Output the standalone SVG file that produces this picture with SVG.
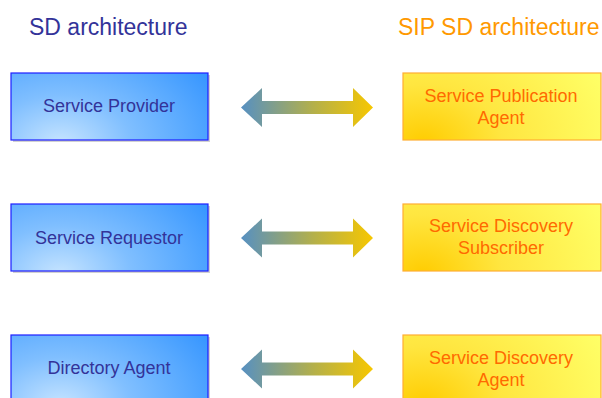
<svg xmlns="http://www.w3.org/2000/svg" width="602" height="398" viewBox="0 0 602 398">
<defs>
<radialGradient id="blueG" cx="0.25" cy="1.05" r="0.9" gradientTransform="translate(0.25 1.05) scale(1 2) translate(-0.25 -1.05)">
<stop offset="0" stop-color="#c6e4ff"/>
<stop offset="0.4" stop-color="#80bfff"/>
<stop offset="0.75" stop-color="#56a8ff"/>
<stop offset="1" stop-color="#3796ff"/>
</radialGradient>
<radialGradient id="yellowG" cx="0.1" cy="1.05" r="1" gradientTransform="translate(0.1 1.05) scale(1 2.2) translate(-0.1 -1.05)">
<stop offset="0" stop-color="#ffcc00"/>
<stop offset="0.4" stop-color="#ffe640"/>
<stop offset="1" stop-color="#ffff66"/>
</radialGradient>
<linearGradient id="arrowG" x1="241" y1="0" x2="373" y2="0" gradientUnits="userSpaceOnUse">
<stop offset="0" stop-color="#5690c2"/>
<stop offset="0.55" stop-color="#b4b04a"/>
<stop offset="1" stop-color="#f7c700"/>
</linearGradient>
<path id="arr" d="M241,0 L262,-19.5 L262,-6.5 L353,-6.5 L353,-19.5 L373,0 L353,19.5 L353,6.5 L262,6.5 L262,19.5 Z"/>
</defs>
<style>
.shadow{fill:#9a9a9a;opacity:0.45}
.lbox{fill:url(#blueG);stroke:#1f1fff;stroke-width:1.2}
.rbox{fill:url(#yellowG);stroke:#ffad33;stroke-width:1.2}
.ltxt{font-family:"Liberation Sans",Arial,sans-serif;font-size:18px;fill:#333399;text-anchor:middle}
.rtxt{font-family:"Liberation Sans",Arial,sans-serif;font-size:18px;fill:#ff6a00;text-anchor:middle}
.title{font-family:"Liberation Sans",Arial,sans-serif;font-size:23px}
.conn use{fill:url(#arrowG)}
</style>
<rect width="602" height="398" fill="#ffffff"/>
<text class="title" x="29" y="35" fill="#333399">SD architecture</text>
<text class="title" x="398" y="35" fill="#ff9900">SIP SD architecture</text>

<g id="service-provider">
<rect class="shadow" x="13" y="75" width="197" height="67"/>
<rect class="lbox" x="11" y="73" width="197" height="67"/>
<text class="ltxt" x="109" y="112">Service Provider</text>
</g>
<g id="service-requestor">
<rect class="shadow" x="13" y="206" width="197" height="67"/>
<rect class="lbox" x="11" y="204" width="197" height="67"/>
<text class="ltxt" x="109" y="244">Service Requestor</text>
</g>
<g id="directory-agent">
<rect class="shadow" x="13" y="337" width="197" height="67"/>
<rect class="lbox" x="11" y="335" width="197" height="67"/>
<text class="ltxt" x="109" y="374">Directory Agent</text>
</g>

<g id="service-publication-agent">
<rect class="rbox" x="403" y="73" width="198" height="67"/>
<text class="rtxt" x="501" y="102">Service Publication</text>
<text class="rtxt" x="501" y="124">Agent</text>
</g>
<g id="service-discovery-subscriber">
<rect class="rbox" x="403" y="204" width="198" height="67"/>
<text class="rtxt" x="501" y="232">Service Discovery</text>
<text class="rtxt" x="501" y="254">Subscriber</text>
</g>
<g id="service-discovery-agent">
<rect class="rbox" x="403" y="335" width="198" height="67"/>
<text class="rtxt" x="501" y="364">Service Discovery</text>
<text class="rtxt" x="501" y="386">Agent</text>
</g>

<g id="connectors" class="conn">
<use href="#arr" y="107.5"/>
<use href="#arr" y="238"/>
<use href="#arr" y="369"/>
</g>
</svg>
